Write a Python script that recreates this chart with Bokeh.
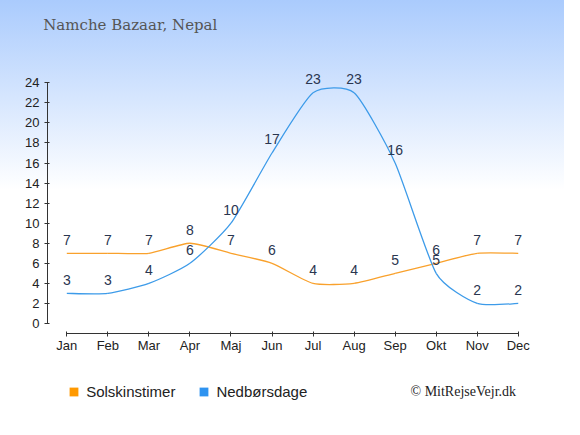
from bokeh.plotting import figure
from bokeh.models import Range1d, FixedTicker, Label, Legend, LegendItem
from bokeh.core.properties import value
from bokeh.embed import file_html
from bokeh.resources import INLINE

months = ["Jan", "Feb", "Mar", "Apr", "Maj", "Jun", "Jul", "Aug", "Sep", "Okt", "Nov", "Dec"]
sun_hours = [7, 7, 7, 8, 7, 6, 4, 4, 5, 6, 7, 7]
rain_days = [3, 3, 4, 6, 10, 17, 23, 23, 16, 5, 2, 2]
y_ticks = list(range(0, 26, 2))

SUN_COLOR = "#f9a12c"
RAIN_COLOR = "#3d9be9"
SUN_LEGEND = "#ff9900"
RAIN_LEGEND = "#2e93f0"
LABEL_COLOR = "#2a3650"
FONT = "Liberation Sans"
NAN = float("nan")

W, H = 564, 419
p = figure(width=W, height=H, output_backend="svg", toolbar_location=None,
           x_range=Range1d(-1.6155, 12.127), y_range=Range1d(-9.571, 32.203),
           min_border_left=0, min_border_right=0, min_border_top=0, min_border_bottom=0)
p.title.visible = False
p.styles = {"background-image": "linear-gradient(to bottom, #aacbfd 0px, #ffffff 190px, #ffffff 100%)"}
p.border_fill_alpha = 0
p.background_fill_alpha = 0
p.outline_line_color = None
p.grid.visible = False

# axes (placed at fixed positions inside the frame)
p.xaxis.ticker = FixedTicker(ticks=list(range(len(months))))
p.xaxis.major_label_overrides = {i: m for i, m in enumerate(months)}
p.xaxis.bounds = (0, len(months) - 1)
p.xaxis.fixed_location = -0.997
p.yaxis.ticker = FixedTicker(ticks=y_ticks)
p.yaxis.bounds = (0, 24)
p.yaxis.fixed_location = -0.4703
for ax in (p.xaxis[0], p.yaxis[0]):
    ax.axis_line_color = "#333333"
    ax.major_tick_line_color = "#333333"
    ax.minor_tick_line_color = None
    ax.major_label_text_font = FONT
    ax.major_label_text_font_size = "13px"
    ax.major_label_text_color = "#222222"
p.xaxis.major_tick_in = 2
p.xaxis.major_tick_out = 3
p.xaxis.major_label_standoff = 1
p.yaxis.major_tick_in = 2
p.yaxis.major_tick_out = 3
p.yaxis.major_label_standoff = 5


def cardinal(xs, ys, k=0.1):
    n = len(xs)
    out = {"x0": [], "y0": [], "x1": [], "y1": [], "cx0": [], "cy0": [], "cx1": [], "cy1": []}
    for i in range(n - 1):
        a = max(i - 1, 0)
        b = min(i + 2, n - 1)
        out["x0"].append(xs[i]); out["y0"].append(ys[i])
        out["x1"].append(xs[i + 1]); out["y1"].append(ys[i + 1])
        out["cx0"].append(xs[i] + k * (xs[i + 1] - xs[a]))
        out["cy0"].append(ys[i] + k * (ys[i + 1] - ys[a]))
        out["cx1"].append(xs[i + 1] - k * (xs[b] - xs[i]))
        out["cy1"].append(ys[i + 1] - k * (ys[b] - ys[i]))
    return out


xs = list(range(len(months)))
for vals, col in ((sun_hours, SUN_COLOR), (rain_days, RAIN_COLOR)):
    seg = cardinal(xs, vals)
    p.bezier(line_color=col, line_width=1.3, **seg)
    p.text(x=xs, y=vals, text=[str(v) for v in vals], y_offset=-13.5,
           text_align="center", text_baseline="middle",
           text_font=value(FONT), text_font_size="14px", text_color=LABEL_COLOR)

# legend (glyph-only renderers with no visible data)
r_sun = p.quad(left=[NAN], right=[NAN], top=[NAN], bottom=[NAN], fill_color=SUN_LEGEND, line_color=None)
r_rain = p.quad(left=[NAN], right=[NAN], top=[NAN], bottom=[NAN], fill_color=RAIN_LEGEND, line_color=None)
legend = Legend(items=[LegendItem(label="Solskinstimer", renderers=[r_sun]),
                       LegendItem(label="Nedbørsdage", renderers=[r_rain])],
                orientation="horizontal", location=(68.2, 18.6),
                glyph_width=11, glyph_height=11, label_height=9, label_standoff=7, spacing=23,
                padding=0, margin=0, border_line_color=None, background_fill_alpha=0,
                label_text_font=FONT, label_text_font_size="15px", label_text_color="#222222")
p.add_layout(legend, "center")

p.add_layout(Label(x=42.7, y=394.5, x_units="screen", y_units="screen", text="Namche Bazaar, Nepal",
                   text_font="DejaVu Serif", text_font_size="15px", text_color="#555555",
                   text_baseline="alphabetic"))
p.add_layout(Label(x=410, y=28.1, x_units="screen", y_units="screen", text="© MitRejseVejr.dk",
                   text_font="Liberation Serif", text_font_size="14px", text_color="#222222",
                   text_baseline="alphabetic"))

open("out.html", "w").write(file_html(p, INLINE))
